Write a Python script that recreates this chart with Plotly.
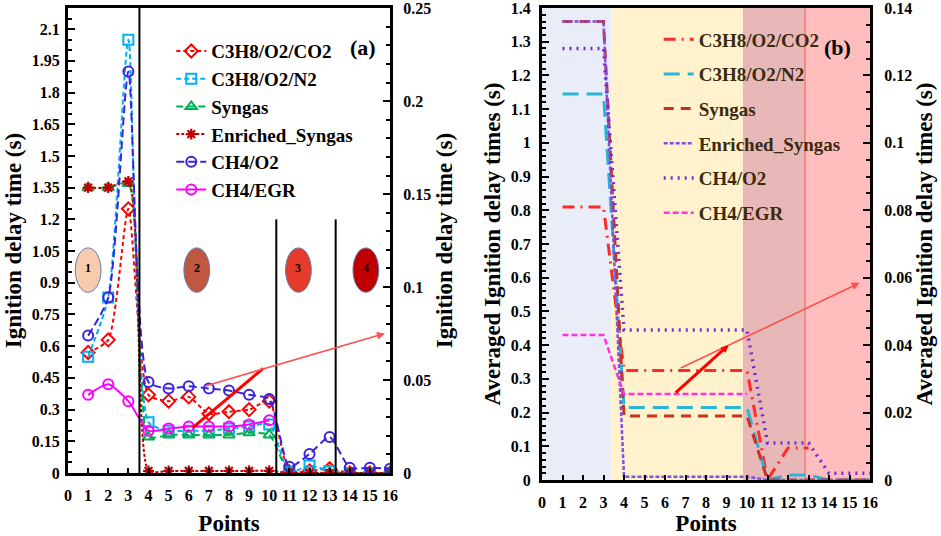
import plotly.graph_objects as go

# ---- data: panel (a) ----
points = list(range(1, 17))
co2_a = [0.57, 0.63, 1.25, 0.37, 0.34, 0.36, 0.28, 0.29, 0.30, 0.34, 0.005, 0.01, 0.02, 0.0, 0.0, 0.0]
n2_a = [0.55, 0.83, 2.05, 0.24, 0.20, 0.20, 0.20, 0.21, 0.22, 0.23, 0.005, 0.035, 0.01, 0.0, 0.0, 0.0]
syngas_a = [1.35, 1.35, 1.37, 0.17, 0.18, 0.18, 0.18, 0.18, 0.19, 0.18, 0.0, 0.0, 0.0, 0.0, 0.0, 0.0]
enriched_a = [1.35, 1.35, 1.38, 0.01, 0.01, 0.01, 0.01, 0.01, 0.01, 0.01, 0.0, 0.0, 0.0, 0.0, 0.0, 0.0]
ch4o2_a = [0.65, 0.83, 1.90, 0.43, 0.40, 0.41, 0.40, 0.39, 0.37, 0.35, 0.03, 0.09, 0.17, 0.025, 0.025, 0.02]
egr_a = [0.37, 0.42, 0.34, 0.20, 0.21, 0.22, 0.22, 0.22, 0.23, 0.25, None, None, None, None, None, None]

# ---- data: panel (b), averaged per region ----
co2_b = [0.81] * 3 + [0.325] * 7 + [0.0, 0.095, 0.095, None, None, None]
n2_b = [1.145] * 3 + [0.215] * 7 + [0.0, 0.015, 0.015, 0.0, 0.0, 0.0]
syngas_b = [1.36] * 3 + [0.19] * 7 + [0.0] * 6
enriched_b = [1.36] * 3 + [0.01] * 7 + [0.0] * 6
ch4o2_b = [1.28] * 3 + [0.445] * 7 + [0.11] * 3 + [0.02] * 3
egr_b = [0.43] * 3 + [0.255] * 7 + [None] * 6

names = ["C3H8/O2/CO2", "C3H8/O2/N2", "Syngas", "Enriched_Syngas", "CH4/O2", "CH4/EGR"]

# region marks
region_lines_a = [3.55, 10.35, 13.3]
region_labels = ["1", "2", "3", "4"]
region_centers = [1.0, 6.4, 11.45, 14.8]
region_colors = ["#F8CBAD", "#C0583F", "#E63B2B", "#C00000"]
bands_b = [(0, 3.4, "#E9EDF7"), (3.4, 9.8, "#FFF2CC"), (9.8, 12.83, "#E8B8B8"), (12.83, 16, "#FFBDBD")]

SERIF = "Liberation Serif"
W, H = 941, 536

fig = go.Figure()

style_a = [
    ("#FF0000", "4px,3px", "diamond-open"),
    ("#00B0F0", "5px,3px", "square-open"),
    ("#00B050", "7px,4px", "triangle-up-open"),
    ("#C00000", "3px,2px", "asterisk-open"),
    ("#3A22E0", "8px,4px", "circle-open"),
    ("#FF00FF", "solid", "circle-open"),
]
for i, (vals, (c, d, sym)) in enumerate(zip([co2_a, n2_a, syngas_a, enriched_a, ch4o2_a, egr_a], style_a)):
    fig.add_trace(go.Scatter(
        x=points, y=vals, name=names[i], mode="lines+markers",
        line=dict(color=c, dash=d, width=2, shape="spline", smoothing=0.6),
        marker=dict(symbol=sym, size=10 if sym != "asterisk-open" else 9, color=c,
                    line=dict(width=2.2 if sym == "asterisk-open" else 2, color=c)),
        connectgaps=False, legend="legend", legendgroup="a%d" % i,
        xaxis="x", yaxis="y"))

style_b = [
    ("#FF2A2A", "12px,6px,2px,6px", 3),
    ("#2BB5D5", "16px,8px", 3),
    ("#C8321E", "10px,7px", 3),
    ("#7F50E8", "4px,2px", 2.5),
    ("#7030D0", "2px,5px", 3.5),
    ("#FF33DD", "6px,3px", 2.5),
]
for i, (vals, (c, d, w)) in enumerate(zip([co2_b, n2_b, syngas_b, enriched_b, ch4o2_b, egr_b], style_b)):
    fig.add_trace(go.Scatter(
        x=points, y=vals, name=names[i], mode="lines",
        line=dict(color=c, dash=d, width=w),
        legend="legend2", legendgroup="b%d" % i,
        xaxis="x2", yaxis="y3"))

# empty traces so that the secondary axes are drawn
fig.add_trace(go.Scatter(x=[None], y=[None], xaxis="x", yaxis="y2", showlegend=False))
fig.add_trace(go.Scatter(x=[None], y=[None], xaxis="x2", yaxis="y4", showlegend=False))

shapes = []
# panel (a) region separators
shapes.append(dict(type="line", xref="x", yref="y", x0=region_lines_a[0], x1=region_lines_a[0],
                   y0=0, y1=2.2, line=dict(color="black", width=2)))
for xv in region_lines_a[1:]:
    shapes.append(dict(type="line", xref="x", yref="y", x0=xv, x1=xv, y0=0, y1=1.2,
                       line=dict(color="black", width=2)))
for cx, col in zip(region_centers, region_colors):
    shapes.append(dict(type="circle", xref="x", yref="y", x0=cx - 0.64, x1=cx + 0.64,
                       y0=0.855, y1=1.065, fillcolor=col, line=dict(color="#5B7DB5", width=1)))
shapes.append(dict(type="line", xref="x", yref="y", x0=6.2, y0=0.215, x1=9.7, y1=0.495,
                   line=dict(color="#FF0000", width=3)))
# panel (b) bands
for x0, x1, col in bands_b:
    shapes.append(dict(type="rect", xref="x2", yref="y3", x0=x0, x1=x1, y0=0, y1=1.4,
                       fillcolor=col, line=dict(width=0), layer="below"))
shapes.append(dict(type="line", xref="x2", yref="y3", x0=12.83, x1=12.83, y0=0, y1=1.4,
                   line=dict(color="#F08C8C", width=2), layer="below"))

annotations = []
for cx, lab in zip(region_centers, region_labels):
    annotations.append(dict(x=cx, y=0.97, xref="x", yref="y", text="<b>%s</b>" % lab,
                            showarrow=False, font=dict(family=SERIF, size=12, color="black")))
annotations.append(dict(x=15.75, y=0.66, ax=6.75, ay=0.41, xref="x", yref="y", axref="x", ayref="y",
                        text="", showarrow=True, arrowhead=2, arrowsize=1, arrowwidth=1.6,
                        arrowcolor="#FF5050"))
annotations.append(dict(x=15.5, y=0.585, ax=6.7, ay=0.33, xref="x2", yref="y3", axref="x2", ayref="y3",
                        text="", showarrow=True, arrowhead=2, arrowsize=1, arrowwidth=1.6,
                        arrowcolor="#FF5050"))
annotations.append(dict(x=9.1, y=0.40, ax=6.45, ay=0.255, xref="x2", yref="y3", axref="x2", ayref="y3",
                        text="", showarrow=True, arrowhead=2, arrowsize=0.5, arrowwidth=3,
                        arrowcolor="#FF0000"))
annotations.append(dict(x=363 / W, y=1 - 33 / H, xref="paper", yref="paper", text="<b>(a)</b>",
                        showarrow=False, font=dict(family=SERIF, size=22, color="black")))
annotations.append(dict(x=853 / W, y=1 - 33 / H, xref="paper", yref="paper", text="<b>(b)</b>",
                        showarrow=False, font=dict(family=SERIF, size=22, color="black")))

tickfont = dict(family=SERIF, size=16, color="black", weight="bold")
titlefont = dict(family=SERIF, size=23, color="black", weight="bold")

def xax(domain, anchor, standoff):
    return dict(domain=domain, anchor=anchor, range=[0, 16], dtick=1, ticks="inside", ticklen=5,
                tickwidth=2, tickcolor="black", showline=True, linewidth=3, linecolor="black",
                mirror=True, showgrid=False, zeroline=False, tickfont=tickfont,
                ticklabelstandoff=6,
                title=dict(text="Points", font=titlefont, standoff=standoff))

def yax(domain, rng, dtick, minor, title, side="left", overlaying=None, anchor="x",
        standoff=4, labelgap=2):
    d = dict(domain=domain, range=rng, dtick=dtick, ticks="inside", ticklen=7, tickwidth=2,
             tickcolor="black",
             minor=dict(dtick=minor, ticks="inside", ticklen=4, tickwidth=1.5, tickcolor="black"),
             showline=True, linewidth=3, linecolor="black", showgrid=False, zeroline=False,
             tickfont=tickfont, side=side, anchor=anchor, ticklabelstandoff=labelgap,
             ticklabeloverflow="allow",
             title=dict(text=title, font=titlefont, standoff=standoff))
    if overlaying:
        d["overlaying"] = overlaying
    return d

ydom_a = [63 / H, 1 - 8 / H]
ydom_b = [56 / H, 1 - 8 / H]
fig.update_layout(
    width=W, height=H,
    margin=dict(l=0, r=0, t=0, b=0, autoexpand=False),
    paper_bgcolor="white", plot_bgcolor="white",
    xaxis=xax([68 / W, 390 / W], "y", 17),
    xaxis2=xax([542 / W, 870 / W], "y3", 15),
    yaxis=yax(ydom_a, [0, 2.2], 0.15, 0.05, "Ignition delay time (s)", labelgap=2),
    yaxis2=yax(ydom_a, [0, 0.2501], 0.05, 0.01, "Ignition delay time (s)", side="right",
               overlaying="y", standoff=6, labelgap=7),
    yaxis3=yax(ydom_b, [0, 1.4001], 0.1, 0.02, "Averaged Ignition delay times (s)", anchor="x2",
               labelgap=5),
    yaxis4=yax(ydom_b, [0, 0.14001], 0.02, 0.005, "Averaged Ignition delay times (s)", side="right",
               overlaying="y3", anchor="x2", standoff=5, labelgap=8),
    legend=dict(x=0.182, y=0.94, xanchor="left", yanchor="top", bgcolor="rgba(0,0,0,0)",
                font=dict(family=SERIF, size=19, color="black", weight="bold"),
                tracegroupgap=0, itemwidth=30),
    legend2=dict(x=0.700, y=0.962, xanchor="left", yanchor="top", bgcolor="rgba(0,0,0,0)",
                 font=dict(family=SERIF, size=19, color="#3B2A0E", weight="bold"),
                 tracegroupgap=7, itemwidth=30),
    shapes=shapes,
    annotations=annotations,
    showlegend=True,
)

# the page's default body margin would shift the figure by 8px
fig.write_html("out.html", config={"displayModeBar": False},
               post_script="document.body.style.margin='0';")
